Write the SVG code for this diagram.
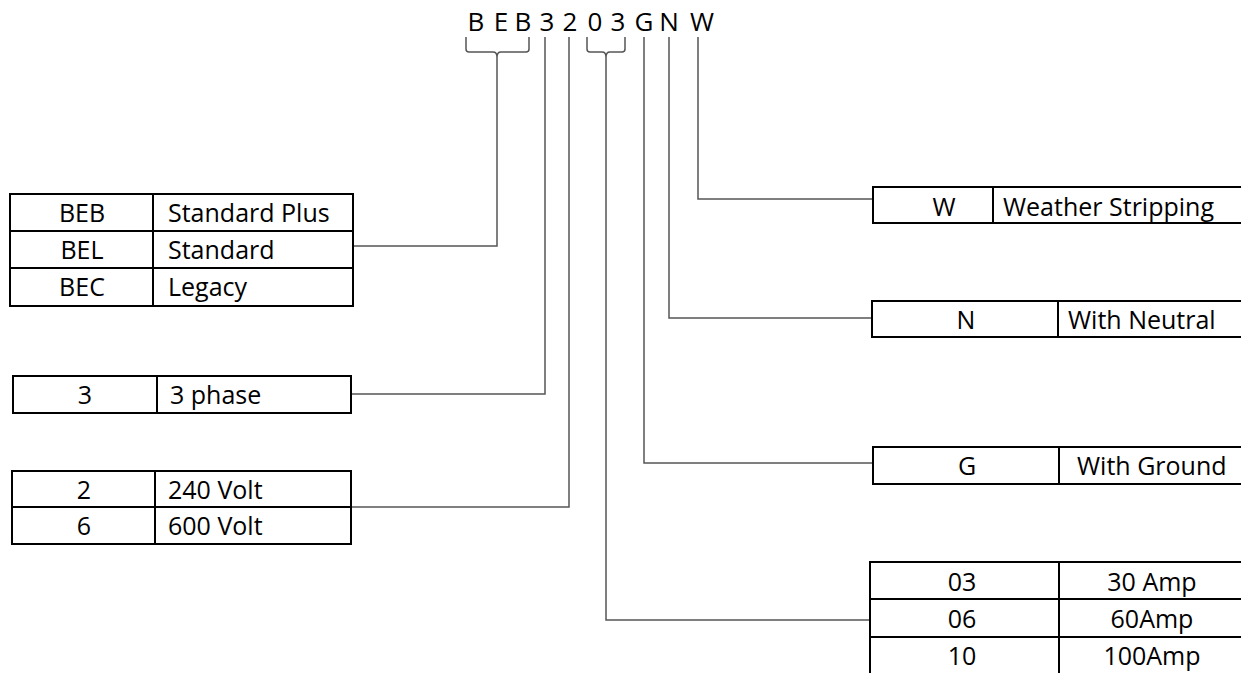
<svg xmlns="http://www.w3.org/2000/svg" width="1241" height="673" viewBox="0 0 1241 673">
  <style>
    .cell { fill: none; stroke: #000; stroke-width: 2; }
    .txt { font-family: "Open Sans", "Liberation Sans", sans-serif; font-size: 25px; fill: #000; }
    .mid { text-anchor: middle; }
    .code { font-family: "Open Sans", "Liberation Sans", sans-serif; font-size: 26px; fill: #000; text-anchor: middle; }
    .wire { fill: none; stroke: #555; stroke-width: 1.5; }
  </style>
  <rect width="1241" height="673" fill="#fff"/>

  <!-- part number -->
  <g id="part-number">
    <text class="code" x="476" y="31">B</text>
    <text class="code" x="501" y="31">E</text>
    <text class="code" x="523" y="31">B</text>
    <text class="code" x="547" y="31">3</text>
    <text class="code" x="570" y="31">2</text>
    <text class="code" x="595" y="31">0</text>
    <text class="code" x="618" y="31">3</text>
    <text class="code" x="644" y="31">G</text>
    <text class="code" x="669" y="31">N</text>
    <text class="code" x="702" y="31">W</text>
  </g>

  <!-- leader lines from each code segment to its option table -->
  <g id="connectors">
    <path class="wire" d="M466,37 V49 Q466,52 469,52 H493 Q497,52 497,57 Q497,52 501,52 H526 Q529,52 529,49 V37"/>
    <path class="wire" d="M497,57 V246 H353"/>
    <path class="wire" d="M545,37 V394 H351"/>
    <path class="wire" d="M569,37 V507 H352"/>
    <path class="wire" d="M587,37 V49 Q587,52 590,52 H602 Q606,52 606,57 Q606,52 610,52 H622 Q625,52 625,49 V37"/>
    <path class="wire" d="M606,57 V620 H870"/>
    <path class="wire" d="M644,37 V463 H873"/>
    <path class="wire" d="M669,37 V318 H872"/>
    <path class="wire" d="M698,37 V199 H873"/>
  </g>

  <!-- series -->
  <g id="series">
    <rect class="cell" x="10" y="194" width="343" height="112"/>
    <path class="cell" d="M153,194 V306 M10,231 H353 M10,268 H353"/>
    <text class="txt mid" x="82" y="222">BEB</text>
    <text class="txt" x="168" y="222">Standard Plus</text>
    <text class="txt mid" x="82" y="259">BEL</text>
    <text class="txt" x="168" y="259">Standard</text>
    <text class="txt mid" x="82" y="296">BEC</text>
    <text class="txt" x="168" y="296">Legacy</text>
  </g>

  <!-- phase -->
  <g id="phase">
    <rect class="cell" x="13" y="376" width="338" height="37"/>
    <path class="cell" d="M157,376 V413"/>
    <text class="txt mid" x="85" y="404">3</text>
    <text class="txt" x="170" y="404">3 phase</text>
  </g>

  <!-- voltage -->
  <g id="voltage">
    <rect class="cell" x="12" y="471" width="339" height="73"/>
    <path class="cell" d="M155,471 V544 M12,507 H351"/>
    <text class="txt mid" x="84" y="499">2</text>
    <text class="txt" x="168" y="499">240 Volt</text>
    <text class="txt mid" x="84" y="535">6</text>
    <text class="txt" x="168" y="535">600 Volt</text>
  </g>

  <!-- weather stripping -->
  <g id="weather">
    <rect class="cell" x="873" y="187" width="372" height="36"/>
    <path class="cell" d="M993,187 V223"/>
    <text class="txt mid" x="944" y="216">W</text>
    <text class="txt" x="1003" y="216">Weather Stripping</text>
  </g>

  <!-- neutral -->
  <g id="neutral">
    <rect class="cell" x="872" y="301" width="373" height="36"/>
    <path class="cell" d="M1058,301 V337"/>
    <text class="txt mid" x="966" y="329">N</text>
    <text class="txt" x="1068" y="329">With Neutral</text>
  </g>

  <!-- ground -->
  <g id="ground">
    <rect class="cell" x="873" y="447" width="372" height="37"/>
    <path class="cell" d="M1059,447 V484"/>
    <text class="txt mid" x="967" y="475">G</text>
    <text class="txt" x="1077" y="475">With Ground</text>
  </g>

  <!-- amperage -->
  <g id="amperage">
    <rect class="cell" x="870" y="562" width="375" height="120"/>
    <path class="cell" d="M1059,562 V682 M870,599 H1245 M870,637 H1245"/>
    <text class="txt mid" x="962" y="591">03</text>
    <text class="txt mid" x="1152" y="591">30 Amp</text>
    <text class="txt mid" x="962" y="628">06</text>
    <text class="txt mid" x="1152" y="628">60Amp</text>
    <text class="txt mid" x="962" y="665">10</text>
    <text class="txt mid" x="1152" y="665">100Amp</text>
  </g>
</svg>
